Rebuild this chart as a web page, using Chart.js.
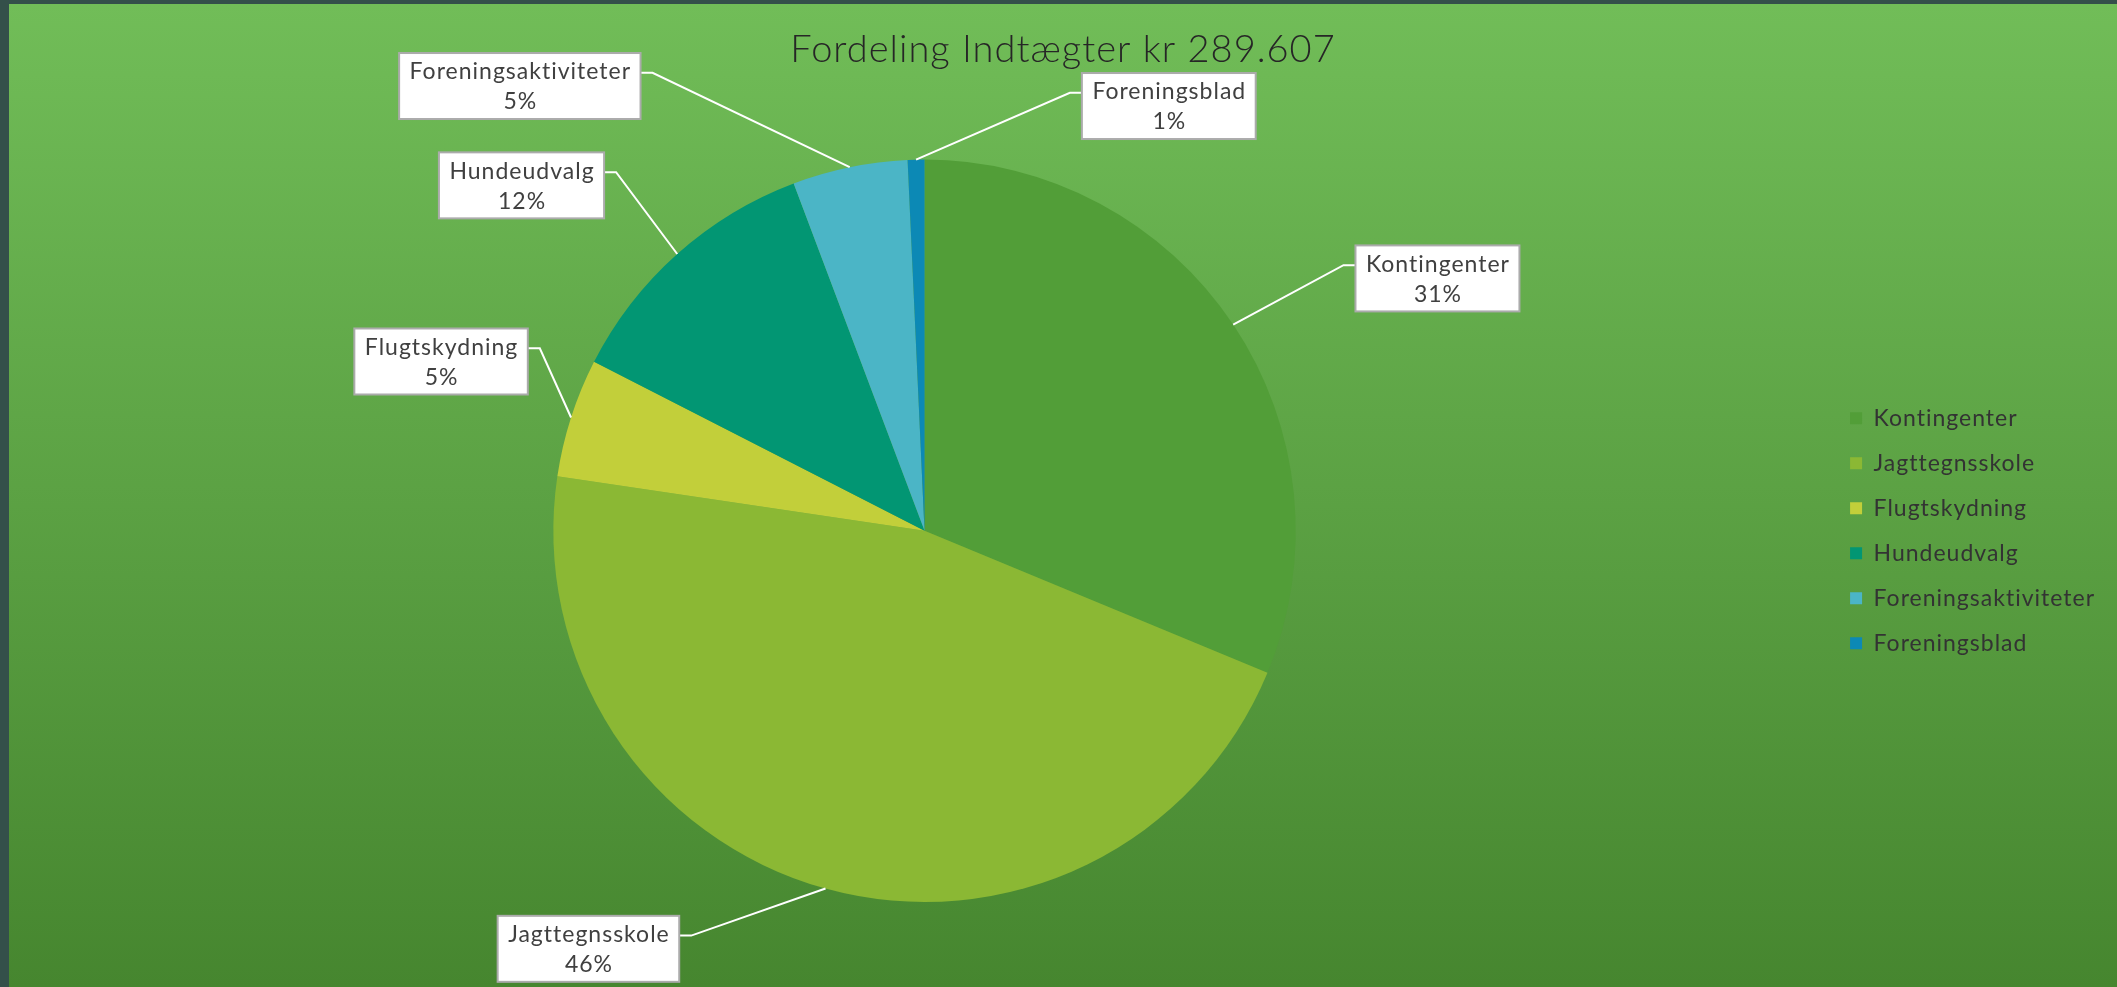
<!DOCTYPE html>
<html>
<head>
<meta charset="utf-8">
<script src="https://cdn.jsdelivr.net/npm/chart.js@4.4.1/dist/chart.umd.min.js"></script>
<style>
  html, body { margin: 0; padding: 0; background: #34504a; }
  #wrap { width: 2117px; height: 987px; }
</style>
</head>
<body>
<div id="wrap"><canvas id="micanvas" width="2117" height="987"></canvas></div>
<script>
let etiquetas = ["Kontingenter", "Jagttegnsskole", "Flugtskydning", "Hundeudvalg", "Foreningsaktiviteter", "Foreningsblad"]
let datos = [90500, 133500, 15000, 34000, 14500, 2107]
let colores = ["#529e38", "#8bb834", "#c2cf3a", "#029673", "#4bb5c6", "#0c89b5"]
let titulo = "Fordeling Indtægter kr 289.607"

// where each label box sits: angle from top (deg, clockwise) and distance in radii
let posiciones = [[63.8, 1.54], [218.8, 1.445], [289.3, 1.38], [310.6, 1.43], [317.7, 1.62], [29.9, 1.32]]

// wide letters, a bit like Century Gothic
let espaciado = {
  id: 'espaciado',
  beforeInit(chart) { chart.ctx.letterSpacing = '1px' },
  beforeLayout(chart) { chart.ctx.letterSpacing = '1px' },
  beforeDraw(chart) { chart.ctx.letterSpacing = '1px' }
}

let fondo = {
  id: 'fondo',
  beforeDraw(chart) {
    let ctx = chart.ctx
    ctx.save()
    ctx.fillStyle = '#34504a'
    ctx.fillRect(0, 0, chart.width, chart.height)
    let g = ctx.createLinearGradient(0, 4, 0, chart.height)
    g.addColorStop(0, '#71bd58')
    g.addColorStop(1, '#46862f')
    ctx.fillStyle = g
    ctx.fillRect(9, 4, chart.width - 9, chart.height - 4)
    ctx.restore()
  }
}

let etiquetasDatos = {
  id: 'etiquetasDatos',
  afterDatasetsDraw(chart) {
    let ctx = chart.ctx
    let meta = chart.getDatasetMeta(0)
    let total = datos.reduce((a, b) => a + b, 0)
    ctx.save()
    ctx.letterSpacing = '1px'
    ctx.font = '23px Lato'
    meta.data.forEach((arc, i) => {
      let p = arc.getProps(['x', 'y', 'startAngle', 'endAngle', 'outerRadius'], true)
      let mid = (p.startAngle + p.endAngle) / 2
      let ax = p.x + Math.cos(mid) * p.outerRadius
      let ay = p.y + Math.sin(mid) * p.outerRadius
      let ang = (posiciones[i][0] - 90) * Math.PI / 180
      let cx = p.x + Math.cos(ang) * posiciones[i][1] * p.outerRadius
      let cy = p.y + Math.sin(ang) * posiciones[i][1] * p.outerRadius
      let l1 = etiquetas[i]
      let l2 = Math.round(datos[i] / total * 100) + '%'
      let w = Math.max(ctx.measureText(l1).width, ctx.measureText(l2).width) + 20
      let h = 66
      let left = cx - w / 2, top = cy - h / 2
      // leader line
      let sy = top + h * 0.3
      ctx.strokeStyle = '#ffffff'
      ctx.lineWidth = 2
      ctx.beginPath()
      if (ax < left) {
        ctx.moveTo(left, sy); ctx.lineTo(left - 12, sy)
      } else {
        ctx.moveTo(left + w, sy); ctx.lineTo(left + w + 12, sy)
      }
      ctx.lineTo(ax, ay)
      ctx.stroke()
      // box
      ctx.fillStyle = '#ffffff'
      ctx.fillRect(left, top, w, h)
      ctx.strokeStyle = '#ababab'
      ctx.lineWidth = 2
      ctx.strokeRect(left, top, w, h)
      ctx.fillStyle = '#404040'
      ctx.textAlign = 'center'
      ctx.textBaseline = 'middle'
      ctx.fillText(l1, cx + 0.5, cy - 14)
      ctx.fillText(l2, cx + 0.5, cy + 16)
    })
    ctx.restore()
  }
}

let contexto = document.getElementById('micanvas').getContext('2d')
let opciones = {
  type: 'pie',
  data: {
    labels: etiquetas,
    datasets: [{
      data: datos,
      backgroundColor: colores,
      borderWidth: 0
    }]
  },
  options: {
    responsive: false,
    animation: false,
    layout: { padding: { top: 4, bottom: 85, left: 21, right: 12 } },
    plugins: {
      title: {
        display: true,
        text: titulo,
        color: '#262626',
        font: { family: 'Lato', size: 38, weight: '300' },
        padding: { top: 23, bottom: 87 }
      },
      legend: {
        position: 'right',
        fullSize: false,
        labels: {
          boxWidth: 12,
          boxHeight: 12,
          padding: 22,
          color: '#333333',
          font: { family: 'Lato', size: 23 }
        }
      },
      tooltip: { enabled: false }
    }
  },
  plugins: [espaciado, fondo, etiquetasDatos]
}

let grafica = new Chart(contexto, opciones)
</script>
</body>
</html>
